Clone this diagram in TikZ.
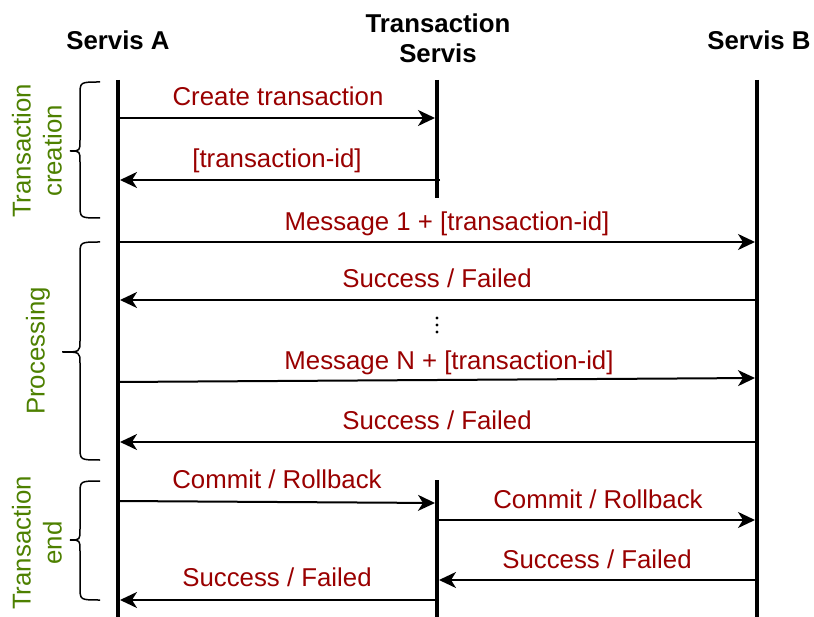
\documentclass[tikz,border=0pt]{standalone}
\usepackage{fontspec}
\setmainfont{Liberation Sans}
\usetikzlibrary{arrows.meta}
\definecolor{msgred}{RGB}{153,0,0}
\definecolor{phasegreen}{RGB}{77,128,0}

\begin{document}
\begin{tikzpicture}[x=1pt,y=-1pt,
  lifeline/.style={line width=4pt},
  msg/.style={line width=2pt, -{Stealth[length=17pt,width=16pt,inset=5pt]}, shorten >=2pt},
  msglabel/.style={text=msgred, font=\fontsize{25.8}{30}\selectfont, anchor=base, inner sep=0pt},
  title/.style={font=\bfseries\fontsize{25.8}{30}\selectfont, anchor=base, inner sep=0pt},
  phase/.style={text=phasegreen, font=\fontsize{25.8}{31}\selectfont, rotate=90, align=center, inner sep=0pt},
  phasebrace/.style={line width=1.5pt}
]
\useasboundingbox (0,0) rectangle (814,617);

% participants
\node[title] (tA) at (118,50) {Servis A};
\node[title] (tT1) at (438,33) {Transaction};
\node[title] (tT2) at (438,63) {Servis};
\node[title] (tB) at (759,50) {Servis B};

% lifelines
\coordinate (Atop) at (118,80);  \coordinate (Abot) at (118,617);
\coordinate (Ttop) at (437,80);  \coordinate (Tcut1) at (437,198);
\coordinate (Tcut2) at (437,480); \coordinate (Tbot) at (437,617);
\coordinate (Btop) at (757,80);  \coordinate (Bbot) at (757,617);
\draw[lifeline] (Atop) -- (Abot);
\draw[lifeline] (Ttop) -- (Tcut1);
\draw[lifeline] (Tcut2) -- (Tbot);
\draw[lifeline] (Btop) -- (Bbot);

% message end points
\coordinate (a1) at (118,118); \coordinate (t1) at (437,118);
\coordinate (t2) at (440,180); \coordinate (a2) at (118,180);
\coordinate (a3) at (118,242); \coordinate (b3) at (757,242);
\coordinate (b4) at (757,300); \coordinate (a4) at (118,300);
\coordinate (a6) at (118,382); \coordinate (b6) at (757,378);
\coordinate (b7) at (757,442); \coordinate (a7) at (118,442);
\coordinate (a8) at (118,501); \coordinate (t8) at (437,503);
\coordinate (t9) at (437,520); \coordinate (b9) at (757,520);
\coordinate (b10) at (757,580); \coordinate (t10) at (437,580);
\coordinate (t11) at (437,600); \coordinate (a11) at (118,600);

% messages
\draw[msg] (a1) -- (t1);
\draw[msg] (t2) -- (a2);
\draw[msg] (a3) -- (b3);
\draw[msg] (b4) -- (a4);
\draw[msg] (a6) -- (b6);
\draw[msg] (b7) -- (a7);
\draw[msg] (a8) -- (t8);
\draw[msg] (t9) -- (b9);
\draw[msg] (b10) -- (t10);
\draw[msg] (t11) -- (a11);

% message labels
\node[msglabel] (l1) at (278,106) {Create transaction};
\node[msglabel] (l2) at (277,168) {[transaction-id]};
\node[msglabel] (l3) at (447,231) {Message 1 + [transaction-id]};
\node[msglabel] (l4) at (437,288) {Success / Failed};
\node[msglabel] (l6) at (449,370) {Message N + [transaction-id]};
\node[msglabel] (l7) at (437,430) {Success / Failed};
\node[msglabel] (l8) at (277,488) {Commit / Rollback};
\node[msglabel] (l9) at (598,508) {Commit / Rollback};
\node[msglabel] (l10) at (597,568) {Success / Failed};
\node[msglabel] (l11) at (277,586) {Success / Failed};

% vertical ellipsis between messages
\foreach \yy in {318,325,332} \fill (437,\yy) circle (1.6);

% phase braces
\draw[phasebrace] (100,82) .. controls (80,82) .. (80,95) -- (80,140)
  .. controls (80,151) .. (70,151) .. controls (80,151) .. (80,162)
  -- (80,205) .. controls (80,218) .. (100,218);
\draw[phasebrace] (100,242) .. controls (80,242) .. (80,255) -- (80,341)
  .. controls (80,352) .. (62,352) .. controls (80,352) .. (80,363)
  -- (80,447) .. controls (80,460) .. (100,460);
\draw[phasebrace] (100,481) .. controls (80,481) .. (80,494) -- (80,529)
  .. controls (80,540) .. (70,540) .. controls (80,540) .. (80,551)
  -- (80,587) .. controls (80,600) .. (100,600);

% phase labels
\node[phase] (p1) at (37,151) {Transaction\\creation};
\node[phase] (p2) at (38,351) {Processing};
\node[phase] (p3) at (37,543) {Transaction\\end};
\end{tikzpicture}
\end{document}
